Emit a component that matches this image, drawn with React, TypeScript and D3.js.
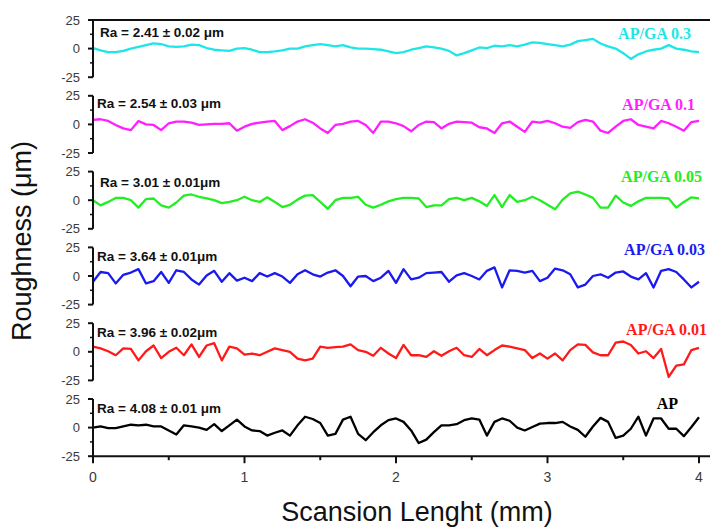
import React from 'react';
import * as d3 from 'd3';

// scan position (mm), shared by every profile
const scanPos = [
  0, 0.05, 0.1, 0.15, 0.2, 0.25, 0.3, 0.35, 0.4, 0.45,
  0.5, 0.55, 0.6, 0.65, 0.7, 0.75, 0.8, 0.85, 0.9, 0.95,
  1, 1.05, 1.1, 1.15, 1.2, 1.25, 1.3, 1.35, 1.4, 1.45,
  1.5, 1.55, 1.6, 1.65, 1.7, 1.75, 1.8, 1.85, 1.9, 1.95,
  2, 2.05, 2.1, 2.15, 2.2, 2.25, 2.3, 2.35, 2.4, 2.45,
  2.5, 2.55, 2.6, 2.65, 2.7, 2.75, 2.8, 2.85, 2.9, 2.95,
  3, 3.05, 3.1, 3.15, 3.2, 3.25, 3.3, 3.35, 3.4, 3.45,
  3.5, 3.55, 3.6, 3.65, 3.7, 3.75, 3.8, 3.85, 3.9, 3.95,
  4,
];

// roughness profiles (µm)
const apGa03 = [
  0.5, -1.5, -3, -3, -2, 0, 1.5, 3, 4.5, 4,
  2, 1.5, 2, 3.5, 3, 0.5, -1, -1.5, -2, 0,
  0.5, -1, -3, -3, -2.5, -1.5, 0, 0, 2, 3,
  4, 3, 2, 3, 1, 0, 0, -0.5, -1, -2.5,
  -4, -3, -1, 0.5, 2, 1, 0, -2, -6, -4,
  -1.5, 1, 0.5, 2.5, 2, 3, 2, 3.5, 5.5, 5,
  4, 3, 2, 3.5, 6.5, 7.5, 8.5, 4.5, 2, 0,
  -4, -9, -5, -2.5, -1, 0, 3, 0, -1, -2.5,
  -3,
];
const apGa01 = [
  4, 4.5, 3, -0.5, -3.5, -5, 3, 0, -0.5, -5,
  1, 2.5, 2.5, 1.5, -0.5, 0, 0.5, 0.5, 1, -5.5,
  -2, 0.5, 1.5, 2.5, 3, -5, -1.5, 2.5, 4.5, 1.5,
  -3.5, -7.5, -0.5, 0.5, 2.5, 3, -0.5, -7.5, 2.5, 2.5,
  1, -1.5, -6, -0.5, 2.5, 2, -3.5, 0.5, 2.5, 2,
  1.5, -2.5, -3.5, -7.5, 1, 2.5, -2, -6.5, 2.5, 1.5,
  3, 1, -2, -3, 2, 4, 2.5, -5.5, -7.5, -2,
  3, 4.5, -0.5, -2, -3.5, 3, 1, -2, -5.5, 2,
  3,
];
const apGa005 = [
  0, -4.5, -1.5, 2, 2, 0, -6.5, 1, 1.5, -4.5,
  -6.5, -2, 4, 5, 3, 1.5, 0, -2.5, -1.5, 0,
  3, 0, -1.5, 2.5, -1.5, -6, -4, 0.5, 4, 4.5,
  -1.5, -7.5, 0, 2, 2, 3, -4, -6.5, -4, -1,
  1, 2, 2, 1.5, -6, -4.5, -4.5, 1, 2, 0,
  2, -1, -5, 4.5, -6, 4.5, -1.5, 0, 3, 0,
  -4, -8, 0.5, 6, 7.5, 5, 2, -6.5, -6.5, 4,
  -2, -5, -1, 2, 2, 2, 1.5, -6.5, -1.5, 2.5,
  1.5,
];
const apGa003 = [
  -5, 3.5, 2.5, -6.5, 1, 3, 6, -6.5, -4.5, 3.5,
  -6, 5, 3.5, -3, -7.5, 0.5, 4.5, -5, 2.5, -4,
  -1.5, -4.5, 2.5, -0.5, 2.5, -0.5, -6, 1.5, 5, 1.5,
  -0.5, 3, 5, 0, -9, -0.5, 0, -4.5, -1.5, 4.5,
  -6, 6, -3, -1.5, 2.5, 3, 3.5, -5, 0.5, 2.5,
  0, -3, 4.5, 7.5, -10, 5, 4.5, 3, 4.5, -4.5,
  -1.5, 6.5, 5, 1.5, -10, -7.5, 0, 1.5, -1.5, 3,
  4, -0.5, -3, 2.5, -10, 4.5, 6, 3.5, -3, -10,
  -5,
];
const apGa001 = [
  4.5, 3, 0.5, -3, 3, 2.5, -7.5, 0.5, 5.5, -5.5,
  0, 3.5, -3, 6.5, -4.5, 5.5, 7.5, -7.5, 4.5, 3,
  -2.5, -1.5, -3, 0, 3, 1.5, 0, -6, -7.5, -6,
  4.5, 3.5, 4, 4.5, 6.5, 1.5, 0, -3.5, 3.5, -1.5,
  -5.5, 6, -3, -3, -4.5, 0.5, -3.5, 0.5, 3.5, -3,
  -4.5, 2.5, -3, 1.5, 5.5, 4.5, 3, 1.5, -5.5, -1.5,
  -6, -1.5, -7.5, 1.5, 6.5, 6, -0.5, -3, -3, 8,
  9, 6, -1.5, 0.5, -5.5, 2.5, -22, -12, -11, 1.5,
  3.5,
];
const apPlain = [
  0, 1, -0.5, -0.5, 1, 2.5, 2, 2.5, 1, 1,
  -2.5, -6, 2, 1, 0, -2, 3, -3, 2, 7,
  1, -2.5, -3, -7, -4.5, -2.5, -7, 2, 9.5, 7.5,
  4, -7, -5.5, 7, 9.5, -5.5, -11, -4, 2, 6.5,
  8, 5, -2.5, -13.5, -10.5, -4, 2, 2, 3, 6.5,
  8, 7, -7, 5, 8, 6, 0, -2.5, 0.5, 3.5,
  4, 4, 5, 1, -2, -8, 1, 8.5, 5, -9,
  -7, -1, 9.5, -7, 8, 8, -1, -1, -7.5, 0.5,
  9,
];

const sampleNames = ['AP/GA 0.3', 'AP/GA 0.1', 'AP/GA 0.05', 'AP/GA 0.03', 'AP/GA 0.01', 'AP'];
const raLabels = [
  'Ra = 2.41 ± 0.02 μm',
  'Ra = 2.54 ± 0.03 μm',
  'Ra = 3.01 ± 0.01μm',
  'Ra = 3.64 ± 0.01μm',
  'Ra = 3.96 ± 0.02μm',
  'Ra = 4.08 ± 0.01 μm',
];
const yTicks = [25, 0, -25];
const yMinor = [12.5, -12.5];
const xTicks = [0, 1, 2, 3, 4];
const xMinor = [0.5, 1.5, 2.5, 3.5];

const profiles = [apGa03, apGa01, apGa005, apGa003, apGa001, apPlain];
const colors = ['#1fe6e6', '#ff1eff', '#22ee22', '#1a1aee', '#ff1a1a', '#000000'];
// label placement per panel (px from panel top / right end x)
const raPos = [{ x: 100, dy: 16.5 }, { x: 97, dy: 12.5 }, { x: 100, dy: 15.7 }, { x: 97, dy: 13.6 }, { x: 97, dy: 13.8 }, { x: 97, dy: 14.3 }];
const namePos = [{ x: 691, dy: 19 }, { x: 695, dy: 14 }, { x: 702, dy: 10.5 }, { x: 705, dy: 7.6 }, { x: 707, dy: 11.8 }, { x: 678, dy: 10 }];

const W = 710;
const H = 527;
const left = 93;
const right = 699;
const firstTop = 20;
const panelStep = 75.8;
const panelH = 57.2;

export default function App() {
  const x = d3.scaleLinear().domain([0, 4]).range([left, right]);
  const lastBottom = firstTop + 5 * panelStep + panelH;

  return (
    <svg width={W} height={H} style={{ position: 'absolute', left: 0, top: 0, background: '#fff' }}
      fontFamily="'Liberation Sans', Arial, sans-serif">
      {/* frame top */}
      <line x1={left} x2={W} y1={firstTop} y2={firstTop} stroke="#111" strokeWidth={2} />

      {profiles.map((vals, i) => {
        const top = firstTop + i * panelStep;
        const y = d3.scaleLinear().domain([-25, 25]).range([top + panelH, top]);
        const line = d3.line<number>()
          .x((_, k) => x(scanPos[k]))
          .y(d => y(d));
        return (
          <g key={i}>
            <path d={line(vals) || ''} fill="none" stroke={colors[i]} strokeWidth={2.3}
              strokeLinejoin="round" />
            {/* y axis */}
            <line x1={left} x2={left} y1={y(25)} y2={y(-25)} stroke="#111" strokeWidth={2} />
            {yTicks.map(t => (
              <g key={t}>
                <line x1={left - 5} x2={left} y1={y(t)} y2={y(t)} stroke="#111" strokeWidth={2} />
                <text x={80} y={y(t)} dy="0.36em" textAnchor="end" fontSize={13} fill="#3a3a3a">{t}</text>
              </g>
            ))}
            {yMinor.map(t => (
              <line key={t} x1={left - 3} x2={left} y1={y(t)} y2={y(t)} stroke="#111" strokeWidth={1.5} />
            ))}
            <text x={raPos[i].x} y={top + raPos[i].dy} fontSize={13.5} fontWeight="bold" fill="#111">{raLabels[i]}</text>
            <text x={namePos[i].x} y={top + namePos[i].dy} textAnchor="end" fontSize={16} fontWeight="bold"
              fontFamily="'Liberation Serif', 'Times New Roman', serif" fill={colors[i]}>{sampleNames[i]}</text>
          </g>
        );
      })}

      {/* x axis */}
      <line x1={left} x2={W} y1={lastBottom} y2={lastBottom} stroke="#111" strokeWidth={2} />
      {xTicks.map(t => (
        <g key={t}>
          <line x1={x(t)} x2={x(t)} y1={lastBottom} y2={lastBottom + 7} stroke="#111" strokeWidth={2} />
          <text x={x(t)} y={lastBottom + 26} textAnchor="middle" fontSize={14} fill="#3a3a3a">{t}</text>
        </g>
      ))}
      {xMinor.map(t => (
        <line key={t} x1={x(t)} x2={x(t)} y1={lastBottom} y2={lastBottom + 4} stroke="#111" strokeWidth={2} />
      ))}

      <text x={417} y={521} textAnchor="middle" fontSize={27} fill="#111">Scansion Lenght (mm)</text>
      <text transform="translate(31,241) rotate(-90)" textAnchor="middle" fontSize={27} fill="#111">Roughness (μm)</text>
    </svg>
  );
}
